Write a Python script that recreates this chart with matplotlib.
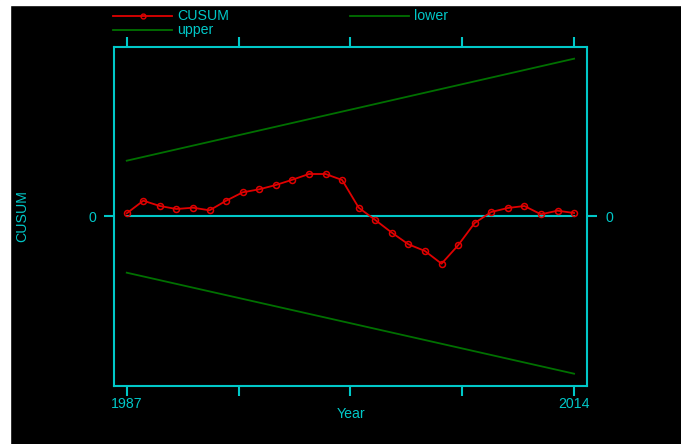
import matplotlib
matplotlib.use("Agg")
import matplotlib.pyplot as plt
from matplotlib.lines import Line2D
from matplotlib.patches import Rectangle

years = list(range(1987, 2015))
cusum = [0.27, 1.53, 1.0, 0.7, 0.83, 0.57, 1.53, 2.37, 2.67, 3.1, 3.63, 4.2, 4.2, 3.6,
         0.83, -0.4, -1.67, -2.83, -3.5, -4.77, -2.93, -0.7, 0.4, 0.8, 1.0, 0.17, 0.53, 0.3]
bound_years = [1987, 2014]
upper = [5.53, 15.73]
lower = [-5.67, -15.77]
xtick_pos = [1987, 1993.75, 2000.5, 2007.25, 2014]
xtick_labels = ["1987", "", "", "", "2014"]

CY = "#00c8c8"
GR = "#007000"
RD = "#e00000"
FS = 10.2
plt.rcParams['font.family'] = ['Liberation Sans', 'DejaVu Sans']

W, H = 681, 444
fig = plt.figure(figsize=(W / 100, H / 100), dpi=100)
fig.patch.set_facecolor("black")
fig.patches.append(Rectangle((0, 0), 10 / W, 1, transform=fig.transFigure, color="white", zorder=-1))
fig.patches.append(Rectangle((0, 1 - 5 / H), 1, 5 / H, transform=fig.transFigure, color="white", zorder=-1))

l, r, t, b = 114, 587, 47, 386
ax = fig.add_axes([l / W, 1 - b / H, (r - l) / W, (b - t) / H])
ax.set_facecolor("black")
for s in ax.spines.values():
    s.set_color(CY)
    s.set_linewidth(1.5)

ax.set_xlim(1986.23, 2014.78)
ax.set_ylim(-17.0, 16.9)

ax.plot(years, cusum, color=RD, lw=1.3, marker="o", ms=4.3, mfc="none", mec=RD, mew=1.1, zorder=4)
ax.plot(bound_years, lower, color=GR, lw=1.3, zorder=3)
ax.plot(bound_years, upper, color=GR, lw=1.3, zorder=3)
ax.plot([years[0], years[-1]], [0, 0], color=CY, lw=1.5, zorder=2)

ax.set_xticks(xtick_pos)
ax.set_xticklabels(xtick_labels)
ax.set_yticks([0])
ax.set_yticklabels(["0"])
ax.tick_params(axis="x", which="both", top=True, bottom=True, direction="out", length=7, width=1.5,
               color=CY, labelcolor=CY, labelsize=FS, pad=1)
ax.tick_params(axis="y", which="both", left=True, right=True, labelright=True, direction="out",
               length=7, width=1.5, color=CY, labelcolor=CY, labelsize=FS, pad=6)

fig.text(350.7 / W, 1 - 414 / H, "Year", color=CY, fontsize=FS, ha="center", va="center")
fig.text(22 / W, 1 - 216 / H, "CUSUM", color=CY, fontsize=FS, ha="center", va="center", rotation=90)

# legend
def leg(x0, y, label, color, marker=None):
    fig.add_artist(Line2D([x0 / W, (x0 + 59) / W], [1 - y / H, 1 - y / H], color=color, lw=1.3,
                          transform=fig.transFigure))
    if marker:
        fig.add_artist(Line2D([(x0 + 29.5) / W], [1 - y / H], color=color, marker="o", ms=3.5,
                              mfc="none", mew=1.0, transform=fig.transFigure))
    fig.text((x0 + 64) / W, 1 - y / H, label, color=CY, fontsize=FS, ha="left", va="center")

leg(113, 16, "CUSUM", RD, marker=True)
leg(350, 16, "lower", GR)
leg(113, 30, "upper", GR)

fig.savefig("out.png", dpi=100, facecolor=fig.get_facecolor())
